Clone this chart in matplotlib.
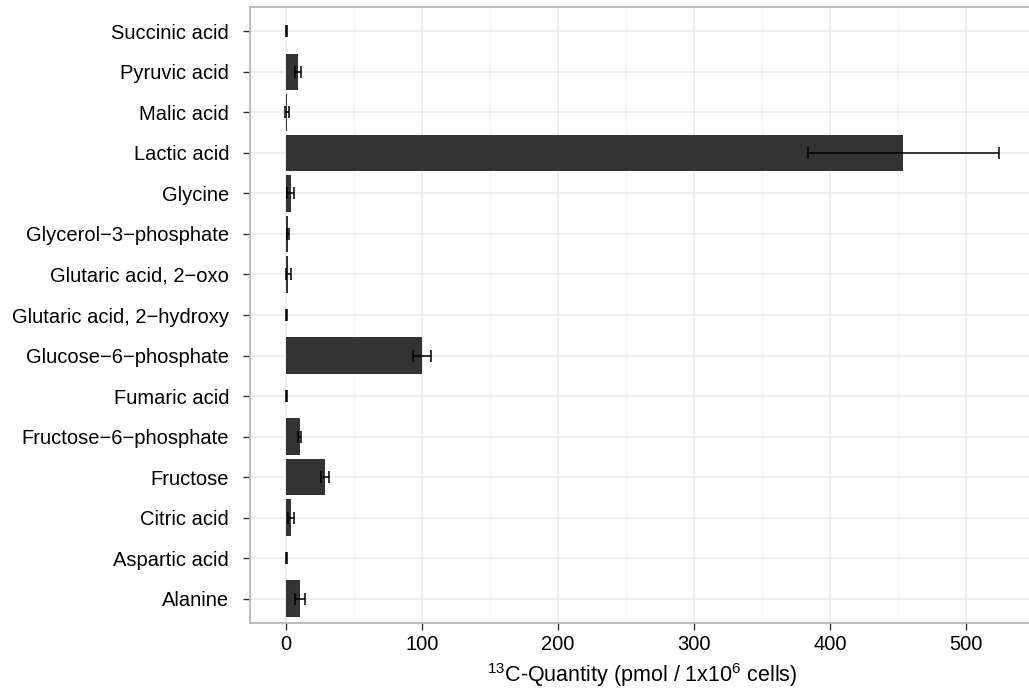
import matplotlib
matplotlib.use("Agg")
import matplotlib.pyplot as plt
from matplotlib.ticker import MultipleLocator

categories = ["Alanine", "Aspartic acid", "Citric acid", "Fructose", "Fructose\u22126\u2212phosphate",
              "Fumaric acid", "Glucose\u22126\u2212phosphate", "Glutaric acid, 2\u2212hydroxy",
              "Glutaric acid, 2\u2212oxo", "Glycerol\u22123\u2212phosphate", "Glycine", "Lactic acid",
              "Malic acid", "Pyruvic acid", "Succinic acid"]
values = [10.3, 0.5, 3.7, 28.7, 10.3, 0.5, 100.0, 0.5, 2.0, 1.5, 3.7, 453.7, 1.0, 8.8, 0.5]
errors = [3.7, 0.3, 2.2, 3.0, 1.1, 0.3, 6.5, 0.3, 2.0, 0.6, 2.6, 70.0, 1.2, 2.2, 0.3]
xticks = [0, 100, 200, 300, 400, 500]

plt.rcParams['font.family'] = ['Liberation Sans', 'DejaVu Sans']
plt.rcParams['mathtext.fontset'] = 'custom'
plt.rcParams['mathtext.rm'] = 'Liberation Sans'

fig = plt.figure(figsize=(10.29, 6.88), dpi=100)
W, H = 1029, 688
left, right, top, bottom = 250, 1034, 7, 623
ax = fig.add_axes([left / W, 1 - bottom / H, (right - left) / W, (bottom - top) / H])

y = list(range(len(categories)))
ax.barh(y, values, height=0.9, color="#333333", zorder=3)
ax.errorbar(values, y, xerr=errors, fmt="none", ecolor="black", elinewidth=1.1,
            capsize=4.5, capthick=1.1, zorder=4)

ax.set_xlim(-26.2, 549.7)
ax.set_ylim(-0.6, len(categories) - 0.4)
ax.set_xticks(xticks)
ax.xaxis.set_minor_locator(MultipleLocator(50))
ax.set_yticks(y)
ax.set_yticklabels(categories)

ax.grid(which="major", color="#EBEBEB", linewidth=1.1, zorder=0)
ax.grid(which="minor", axis="x", color="#F5F5F5", linewidth=0.8, zorder=0)
ax.set_axisbelow(True)
for s in ax.spines.values():
    s.set_color("#B3B3B3")
    s.set_linewidth(1.2)
ax.tick_params(axis="both", which="major", length=5, width=1, color="#333333",
               labelsize=14.5, labelcolor="black")
ax.tick_params(axis="y", pad=10)
ax.tick_params(axis="x", pad=4)
ax.tick_params(axis="both", which="minor", length=0)

ax.set_xlabel(r"$^{\mathrm{13}}$C-Quantity (pmol / 1x10$^{\mathrm{6}}$ cells)", fontsize=15.5, labelpad=5)

fig.savefig("out.png", dpi=100)
